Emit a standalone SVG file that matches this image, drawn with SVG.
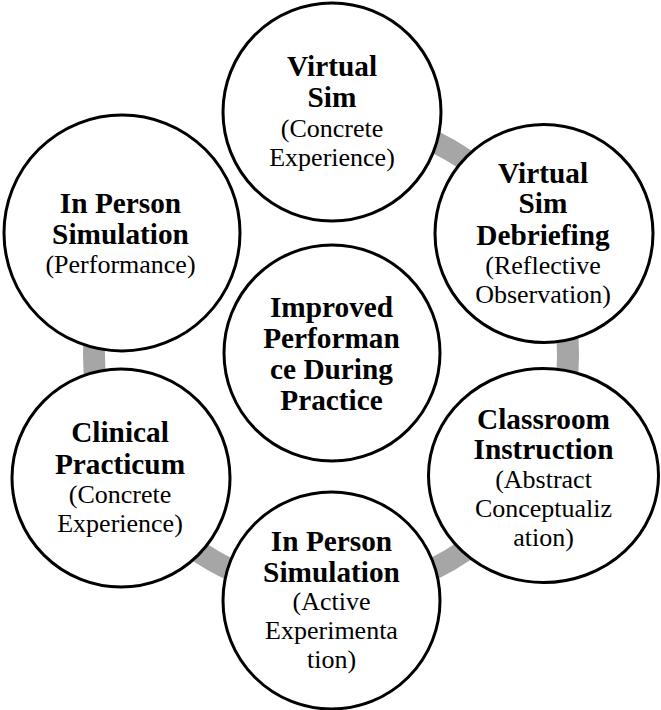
<svg xmlns="http://www.w3.org/2000/svg" width="661" height="710" viewBox="0 0 661 710">
<style>
.ring{fill:none;stroke:#a6a6a6;stroke-width:22}
.node{fill:#fff;stroke:#000;stroke-width:3}
text{font-family:"Liberation Serif","Times New Roman",serif;text-anchor:middle;fill:#000}
.b{font-weight:bold;font-size:29.3px}
.r{font-size:26px}
</style>
<rect width="661" height="710" fill="#fff"/>
<g id="connectors">
<path class="ring" d="M331 118 A237 237 0 0 1 536.25 236.5"/>
<path class="ring" d="M536.25 236.5 A237 237 0 0 1 536.25 473.5"/>
<path class="ring" d="M536.25 473.5 A237 237 0 0 1 331 592"/>
<path class="ring" d="M331 592 A237 237 0 0 1 125.75 473.5"/>
<path class="ring" d="M125.75 473.5 A237 237 0 0 1 125.75 236.5"/>
</g>
<g id="node-virtual-sim">
<circle class="node" cx="332" cy="112" r="109"/>
<text><tspan x="332" y="76" class="b">Virtual</tspan><tspan x="332" y="107" class="b">Sim</tspan><tspan x="332" y="137" class="r">(Concrete</tspan><tspan x="332" y="166" class="r">Experience)</tspan></text>
</g>
<g id="node-debriefing">
<circle class="node" cx="544" cy="233.5" r="109"/>
<text><tspan x="543" y="183" class="b">Virtual</tspan><tspan x="543" y="213" class="b">Sim</tspan><tspan x="543" y="245" class="b">Debriefing</tspan><tspan x="543" y="274" class="r">(Reflective</tspan><tspan x="543" y="303" class="r">Observation)</tspan></text>
</g>
<g id="node-classroom">
<ellipse class="node" cx="543.5" cy="475.5" rx="115" ry="107"/>
<text><tspan x="543.5" y="429" class="b">Classroom</tspan><tspan x="543.5" y="459" class="b">Instruction</tspan><tspan x="543.5" y="488" class="r">(Abstract</tspan><tspan x="543.5" y="517" class="r">Conceptualiz</tspan><tspan x="543.5" y="546" class="r">ation)</tspan></text>
</g>
<g id="node-active">
<circle class="node" cx="331.5" cy="600.5" r="108.5"/>
<text><tspan x="331.5" y="551" class="b">In Person</tspan><tspan x="331.5" y="582" class="b">Simulation</tspan><tspan x="331.5" y="610" class="r">(Active</tspan><tspan x="331.5" y="639" class="r">Experimenta</tspan><tspan x="331.5" y="668" class="r">tion)</tspan></text>
</g>
<g id="node-clinical">
<circle class="node" cx="121" cy="478" r="109"/>
<text><tspan x="120" y="442" class="b">Clinical</tspan><tspan x="120" y="474" class="b">Practicum</tspan><tspan x="120" y="503" class="r">(Concrete</tspan><tspan x="120" y="532" class="r">Experience)</tspan></text>
</g>
<g id="node-performance">
<circle class="node" cx="122" cy="233" r="118"/>
<text><tspan x="120.5" y="213" class="b">In Person</tspan><tspan x="120.5" y="244" class="b">Simulation</tspan><tspan x="120.5" y="273" class="r">(Performance)</tspan></text>
</g>
<g id="node-center">
<circle class="node" cx="332" cy="353" r="108"/>
<text><tspan x="331.5" y="317" class="b">Improved</tspan><tspan x="331.5" y="348" class="b">Performan</tspan><tspan x="331.5" y="379" class="b">ce During</tspan><tspan x="331.5" y="410" class="b">Practice</tspan></text>
</g>
</svg>
